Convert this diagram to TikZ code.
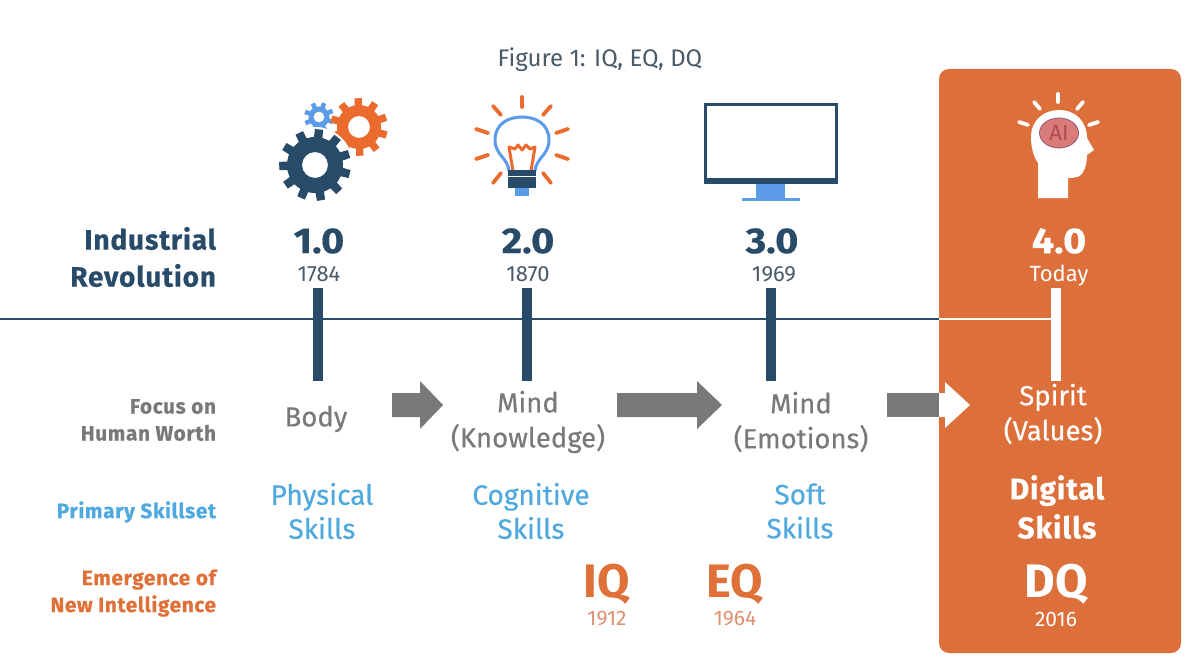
\documentclass[tikz,border=0pt]{standalone}
\usetikzlibrary{shapes.geometric}
\usepackage{fontspec}
\setmainfont{Fira Sans}
\newfontfamily\trk[LetterSpace=3,BoldFeatures={FakeBold=0.4}]{Fira Sans}
\newfontfamily\strk[FakeStretch=1.1,BoldFeatures={FakeBold=0.5}]{Fira Sans}
\newfontfamily\medf[FakeBold=0.35]{Fira Sans}
\definecolor{navy}{HTML}{274B69}
\definecolor{grayt}{HTML}{77797B}
\definecolor{skyb}{HTML}{4FA9DF}
\definecolor{bulbb}{HTML}{5B9BE8}
\definecolor{orng}{HTML}{DF7038}
\definecolor{orngy}{HTML}{DE9170}
\definecolor{gearo}{HTML}{EB6B2E}
\definecolor{panel}{HTML}{DD6F3B}
\definecolor{titlec}{HTML}{4A5A68}
\definecolor{aifill}{HTML}{D97B78}
\definecolor{aiedge}{HTML}{8A5A78}
\definecolor{aitext}{HTML}{B04A50}
\newcommand{\gearfill}[7]{% x y teeth outer root hole colour
  \begin{scope}[shift={(#1,#2)}]
  \pgfmathsetmacro{\stp}{360/#3}
  \fill[#7,even odd rule] (0:#5)
    \foreach \i in {1,...,#3}{
      \pgfextra{\pgfmathsetmacro{\aa}{(\i-1)*\stp}}
      -- ({\aa+0.18*\stp}:#5) -- ({\aa+0.25*\stp}:#4) -- ({\aa+0.65*\stp}:#4)
      -- ({\aa+0.72*\stp}:#5) -- ({\aa+\stp}:#5)
    } -- cycle (0,0) circle (#6);
  \end{scope}}
\tikzset{
  x=1pt,y=-1pt,
  tick/.style={line width=10pt,navy},
  timeline/.style={line width=2.2pt,navy},
  ray/.style={line width=3.8pt,line cap=round,gearo},
  wray/.style={line width=3.8pt,line cap=round,white},
  lab/.style={inner sep=0pt,outer sep=0pt,align=#1},
  lab/.default=center,
  rowhead/.style={lab=right,anchor=east,font=\trk\bfseries\fontsize{20.8}{27}\selectfont},
  era/.style={lab,font=\strk\bfseries\fontsize{36}{38}\selectfont,navy},
  yr/.style={lab,font=\fontsize{22}{24}\selectfont,titlec},
  worth/.style={lab,font=\medf\fontsize{27.5}{35}\selectfont,grayt},
  skill/.style={lab,font=\medf\fontsize{28}{34}\selectfont,skyb},
  iq/.style={lab,font=\bfseries\fontsize{47}{48}\selectfont,orng},
  iqy/.style={lab,font=\fontsize{21}{23}\selectfont,orngy},
}
\begin{document}
\begin{tikzpicture}
\useasboundingbox (0,0) rectangle (1200,658);
\fill[white] (0,0) rectangle (1200,658);
% panel
\fill[panel,rounded corners=10pt] (939,69) rectangle (1181,653);
% timeline
\coordinate (tl0) at (0,319);
\coordinate (tl1) at (939,319);
\coordinate (tl2) at (1056,319);
\draw[timeline] (tl0) -- (tl1);
\draw[line width=2.2pt,white] (tl1) -- (tl2);
\coordinate (t1a) at (318,288); \coordinate (t1b) at (318,381);
\coordinate (t2a) at (527,288); \coordinate (t2b) at (527,381);
\coordinate (t3a) at (771,288); \coordinate (t3b) at (771,381);
\coordinate (t4a) at (1056,288); \coordinate (t4b) at (1056,381);
\draw[tick] (t1a) -- (t1b);
\draw[tick] (t2a) -- (t2b);
\draw[tick] (t3a) -- (t3b);
\draw[line width=10pt,white] (t4a) -- (t4b);
% arrows
\fill[grayt] (392,393) -- (420,393) -- (420,381) -- (443,405) -- (420,429) -- (420,417) -- (392,417) -- cycle;
\fill[grayt] (617,393) -- (697,393) -- (697,381) -- (722,405) -- (697,429) -- (697,417) -- (617,417) -- cycle;
\fill[grayt] (887,393) rectangle (939,417);
\fill[white] (939,393) -- (945,393) -- (945,382) -- (970,405) -- (945,428) -- (945,417) -- (939,417) -- cycle;
% gears
\gearfill{319}{117}{8}{15}{10.5}{5.5}{bulbb}
\gearfill{359}{127}{10}{29}{22}{11}{gearo}
\fill[white] (315,165) circle (38);
\gearfill{315}{165}{11}{36}{28}{13}{navy}
% bulb
\draw[bulbb,line width=3pt] (509,171) .. controls (508,158) and (495,155) .. (495,140)
  .. controls (495,124) and (508,117) .. (522,117)
  .. controls (536,117) and (549,124) .. (549,140)
  .. controls (549,155) and (536,158) .. (535,171);
\draw[gearo,line width=3pt,line join=round] (513,171) -- (509,147) -- (515,149) -- (518,145) -- (522,150) -- (526,145) -- (530,149) -- (535,147) -- (531,171);
\fill[navy] (508,170) rectangle (536,188);
\fill[white] (508,176) rectangle (536,177.3);
\fill[bulbb] (515,188) rectangle (529,196);
\foreach \ax/\ay/\bx/\by in {522/97/522/107,493/106/501/115,551/106/543/115,476/129/488/133,568/129/556/133,476/159/488/155,568/159/556/155,493/183/501/173,551/183/543/173}
  \draw[ray] (\ax,\ay) -- (\bx,\by);
% monitor
\draw[navy,line width=3pt] (705.5,104.5) rectangle (836.5,180);
\fill[navy] (704,178) rectangle (838,184);
\fill[bulbb] (756,184) rectangle (785,198);
\fill[bulbb] (742,198) rectangle (800,201);
% head
\fill[white] (1038,198) -- (1038,163) .. controls (1033,156) and (1031,146) .. (1031,137)
  .. controls (1031,120) and (1044,110) .. (1059,110)
  .. controls (1076,110) and (1087,122) .. (1087,138)
  -- (1094,150) -- (1087,155) .. controls (1087,160) and (1086,168) .. (1083,172)
  .. controls (1081,176) and (1078,178) .. (1068,178) -- (1068,198) -- cycle;
\foreach \ax/\ay/\bx/\by in {1058/94/1058/102,1034/102/1040/109,1083/102/1077/109,1019/122/1028/125,1098/122/1089/125}
  \draw[wray] (\ax,\ay) -- (\bx,\by);
\node[lab,draw=aiedge,line width=0.8pt,fill=aifill,ellipse,minimum width=39pt,minimum height=30pt] at (1059,133) (aibg) {};
\node[lab,font=\fontsize{22}{24}\selectfont,text=aitext] (ai) at (1059,133) {AI};
% text
\node[lab,font=\fontsize{24}{28}\selectfont,titlec] (title) at (600,60) {Figure 1: IQ, EQ, DQ};
\node[lab=right,anchor=east,font=\trk\bfseries\fontsize{28}{37}\selectfont,navy] (ir) at (216,257) {Industrial\\Revolution};
\node[era] (e1) at (319,241) {1.0};
\node[yr] (y1) at (319,274) {1784};
\node[era] (e2) at (528,241) {2.0};
\node[yr] (y2) at (528,274) {1870};
\node[era] (e3) at (772,241) {3.0};
\node[yr] (y3) at (774,274) {1969};
\node[era,white] (e4) at (1059,241) {4.0};
\node[yr,white] (y4) at (1059,276) {Today};
\node[rowhead,grayt] (fw) at (216,420) {Focus on\\Human Worth};
\node[worth] (w1) at (316,419) {Body};
\node[worth] (w2) at (528,422) {Mind\\(Knowledge)};
\node[worth] (w3) at (801,422) {Mind\\(Emotions)};
\node[worth,white] (w4) at (1053,414) {Spirit\\(Values)};
\node[rowhead,skyb] (ps) at (216,512) {Primary Skillset};
\node[skill] (s1) at (322,511) {Physical\\Skills};
\node[skill] (s2) at (531,511) {Cognitive\\Skills};
\node[skill] (s3) at (800,511) {Soft\\Skills};
\node[lab,font=\trk\bfseries\fontsize{30}{39}\selectfont,white] (s4) at (1057,507) {Digital\\Skills};
\node[rowhead,orng] (ni) at (216,593) {Emergence of\\New Intelligence};
\node[iq] (iq) at (607,584) {IQ};
\node[iqy] (iqy) at (607,619) {1912};
\node[iq] (eq) at (735,584) {EQ};
\node[iqy] (eqy) at (735,619) {1964};
\node[iq,white] (dq) at (1056,584) {DQ};
\node[iqy,white] (dqy) at (1056,619) {2016};
\end{tikzpicture}
\end{document}
